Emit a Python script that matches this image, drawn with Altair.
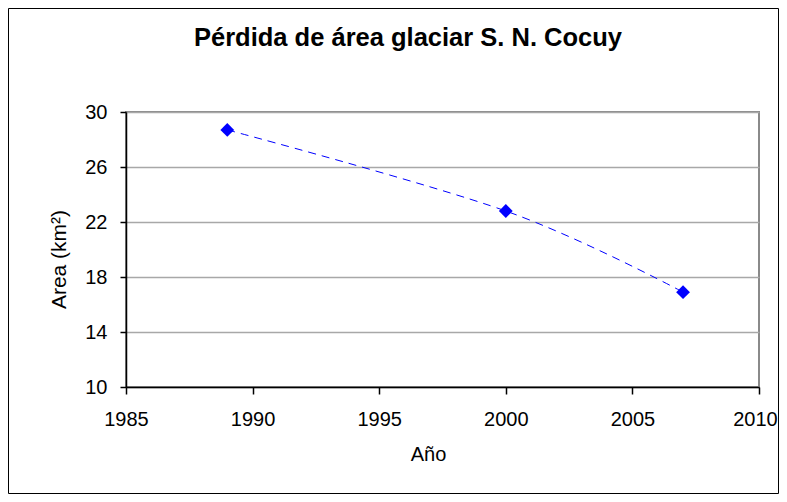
import altair as alt
import pandas as pd

years = [1989, 2000, 2007]
areas = [28.7, 22.8, 16.9]
x_ticks = [1985, 1990, 1995, 2000, 2005, 2010]
y_ticks = [10, 14, 18, 22, 26, 30]
title_text = ["Pérdida de área glaciar S. N. Cocuy"]

df = pd.DataFrame({"year": years, "area": areas})
tdf = pd.DataFrame({"t": title_text})

FONT = "Liberation Sans"
W, H = 633, 275

x_enc = alt.X(
    "year:Q",
    scale=alt.Scale(domain=[1985, 2010], nice=False, zero=False),
    axis=alt.Axis(
        values=x_ticks, format="d", title="Año", grid=False,
        domainColor="black", domainWidth=1.5, tickColor="black", tickWidth=1.5,
        tickSize=7, labelPadding=15, labelFont=FONT, labelFontSize=20,
        labelColor="black", labelFlush=False, labelOverlap=False,
        labelOffset={"condition": {"test": "datum.value == 2010", "value": -4}, "value": 0},
        titleFont=FONT, titleFontSize=20, titleFontWeight="normal",
        titleColor="black", titleX=302, titleY=73, titleBaseline="alphabetic",
        titleAlign="center",
    ),
)
y_enc = alt.Y(
    "area:Q",
    scale=alt.Scale(domain=[10, 30], nice=False, zero=False),
    axis=alt.Axis(
        values=y_ticks, title="Area (km²)", grid=True, gridColor="#a8a8a8",
        gridWidth=1.5, domainColor="black", domainWidth=1.5, tickColor="black",
        tickWidth=1.5, tickSize=6, labelPadding=13, labelFont=FONT,
        labelFontSize=20, labelColor="black", labelFlush=False,
        titleFont=FONT, titleFontSize=21, titleFontWeight="normal",
        titleColor="black", titleX=-67, titleY=147, titleAngle=270,
        titleAlign="center", titleBaseline="middle",
    ),
)

line = alt.Chart(df).mark_line(
    color="#0000ff", strokeWidth=1, strokeDash=[8, 6], interpolate="cardinal"
).encode(x=x_enc, y=y_enc)

pts = alt.Chart(df).mark_point(
    shape="diamond", filled=True, color="#0000ff", size=190, opacity=1
).encode(x="year:Q", y="area:Q")

title = alt.Chart(tdf).mark_text(
    font=FONT, fontSize=25.5, fontWeight="bold", color="black",
    align="center", baseline="alphabetic",
).encode(text="t:N", x=alt.value(282), y=alt.value(-66))

frame = alt.Chart(tdf).mark_rect(
    fill=None, stroke="black", strokeWidth=1
).encode(
    x=alt.value(-117.5), x2=alt.value(652.5),
    y=alt.value(-103.5), y2=alt.value(381.5),
)

chart = alt.layer(line, pts, title, frame).properties(
    width=W, height=H,
    autosize=alt.AutoSizeParams(type="none"),
    padding={"left": 118, "top": 104, "right": 20, "bottom": 107},
    background="white",
).configure_view(stroke="#8a8a8a", strokeWidth=2)

chart.save("out.html", embed_options={"renderer": "svg", "actions": False})
